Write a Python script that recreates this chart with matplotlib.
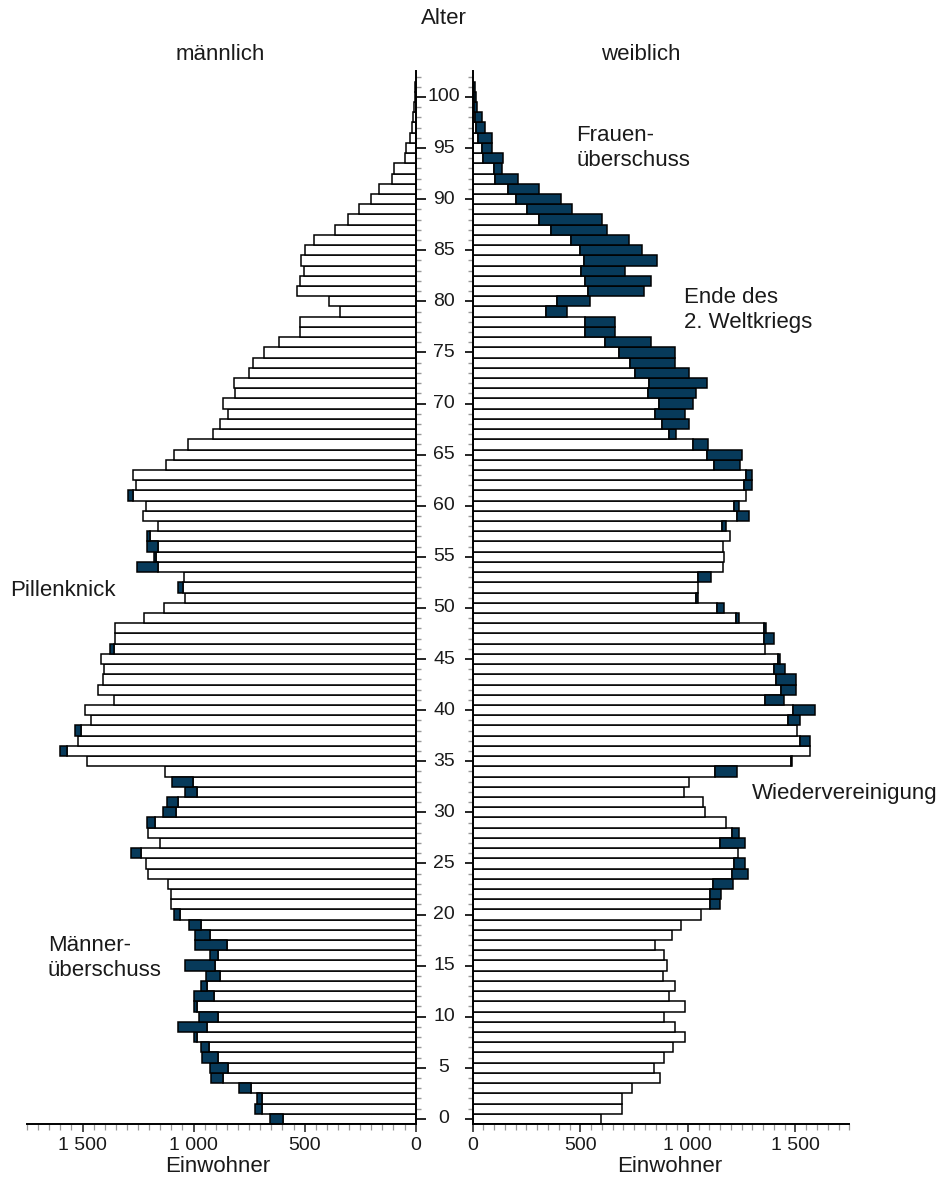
import numpy as np
import matplotlib
matplotlib.use("Agg")
import matplotlib.pyplot as plt
import matplotlib.transforms as mtransforms
from matplotlib.ticker import MultipleLocator, FuncFormatter

plt.rcParams["font.family"] = ["Liberation Sans", "DejaVu Sans"]

# Einwohner je Altersjahr (0 .. 101)
ages = np.arange(0, 102)
male = np.array([
    657, 722, 716, 796, 920, 926, 960, 967, 999, 1071,
    975, 997, 999, 967, 946, 1039, 926, 993, 993, 1020,
    1086, 1103, 1103, 1116, 1205, 1213, 1284, 1149, 1203, 1211,
    1137, 1119, 1039, 1098, 1128, 1478, 1600, 1522, 1533, 1463,
    1490, 1360, 1431, 1410, 1402, 1418, 1376, 1352, 1352, 1223,
    1135, 1037, 1071, 1045, 1257, 1180, 1211, 1211, 1160, 1228,
    1213, 1296, 1260, 1271, 1122, 1090, 1025, 912, 879, 846,
    867, 815, 818, 752, 731, 681, 615, 522, 522, 341,
    391, 534, 523, 505, 518, 497, 458, 363, 306, 254,
    201, 166, 105, 98, 49, 42, 24, 16, 12, 7,
    4, 2,
])
female = np.array([
    596, 692, 692, 741, 869, 843, 891, 930, 986, 938,
    891, 986, 910, 938, 883, 904, 891, 849, 924, 966,
    1062, 1149, 1155, 1209, 1279, 1264, 1235, 1264, 1237, 1175,
    1079, 1068, 984, 1004, 1230, 1484, 1568, 1568, 1507, 1521,
    1590, 1447, 1503, 1503, 1453, 1427, 1358, 1400, 1363, 1237,
    1169, 1046, 1046, 1108, 1161, 1169, 1161, 1195, 1175, 1285,
    1237, 1271, 1298, 1298, 1242, 1250, 1093, 945, 1006, 986,
    1025, 1039, 1087, 1006, 938, 938, 829, 660, 660, 436,
    545, 796, 829, 706, 856, 788, 728, 625, 599, 462,
    408, 307, 211, 137, 143, 88, 88, 56, 42, 20,
    14, 10,
])
age_ticks = np.arange(0, 101, 5)

DARK = "#073a5a"
GRAY = "#9a9a9a"
TEXT = "#1a1a1a"
W, H = 937, 1182


def px_box(x0, x1, y_top, y_bottom):
    return [x0 / W, 1 - y_bottom / H, (x1 - x0) / W, (y_bottom - y_top) / H]


def fmt_thousands(v, pos):
    return f"{int(round(v)):,}".replace(",", " ")


fig = plt.figure(figsize=(W / 100, H / 100), dpi=100)
ax_m = fig.add_axes(px_box(27, 415.7, 71.4, 1124))
ax_f = fig.add_axes(px_box(472.7, 849.3, 71.4, 1124))

lower = np.minimum(male, female)
m_extra = male > female
f_extra = female > male
bar_kw = dict(height=1.0, edgecolor="black", linewidth=1.1)

ax_m.barh(ages, lower, color="white", **bar_kw)
ax_m.barh(ages[m_extra], (male - lower)[m_extra], left=lower[m_extra], color=DARK, **bar_kw)
ax_f.barh(ages, lower, color="white", **bar_kw)
ax_f.barh(ages[f_extra], (female - lower)[f_extra], left=lower[f_extra], color=DARK, **bar_kw)

ax_m.set_xlim(1750, 0)
ax_f.set_xlim(0, 1750)
for ax in (ax_m, ax_f):
    ax.set_ylim(-0.5, 102.5)
    ax.spines["top"].set_visible(False)
    for s in ax.spines.values():
        s.set_linewidth(1.4)
    ax.xaxis.set_major_locator(MultipleLocator(500))
    ax.xaxis.set_minor_locator(MultipleLocator(50))
    ax.xaxis.set_major_formatter(FuncFormatter(fmt_thousands))
    ax.yaxis.set_major_locator(MultipleLocator(5))
    ax.yaxis.set_minor_locator(MultipleLocator(1))
    ax.tick_params(axis="x", which="major", direction="out", length=6, width=1.1,
                   labelsize=14, pad=3, colors=TEXT)
    ax.tick_params(axis="x", which="minor", direction="out", length=4, width=0.9, color=GRAY)
    ax.set_facecolor("none")

ax_m.spines["left"].set_visible(False)
ax_f.spines["right"].set_visible(False)

ax_m.yaxis.tick_right()
ax_m.tick_params(axis="y", which="major", direction="out", length=7.5, width=1.2, labelright=False)
ax_m.tick_params(axis="y", which="minor", direction="out", length=3.8, width=1.0, color=GRAY)
ax_f.tick_params(axis="y", which="major", direction="out", length=6, width=1.2, labelleft=False)
ax_f.tick_params(axis="y", which="minor", direction="out", length=3.8, width=1.0, color=GRAY)

# Altersangaben mittig zwischen den beiden Achsen
trans = mtransforms.blended_transform_factory(fig.transFigure, ax_f.transData)
for a in age_ticks:
    ax_f.text(444 / W, a, str(a), transform=trans, ha="center", va="center",
              fontsize=14, color=TEXT)


def ftext(x, y, s, **kw):
    kw.setdefault("fontsize", 16)
    kw.setdefault("color", TEXT)
    fig.text(x / W, 1 - y / H, s, **kw)


ftext(444, 18, "Alter", ha="center", va="center")
ftext(220, 55, "männlich", ha="center", va="center")
ftext(641, 55, "weiblich", ha="center", va="center")
ftext(218, 1167, "Einwohner", ha="center", va="center")
ftext(670, 1167, "Einwohner", ha="center", va="center")
ftext(10, 590, "Pillenknick", ha="left", va="center")
ftext(48, 958, "Männer-\nüberschuss", ha="left", va="center", linespacing=1.3)
ftext(576, 148, "Frauen-\nüberschuss", ha="left", va="center", linespacing=1.3)
ftext(684, 310, "Ende des\n2. Weltkriegs", ha="left", va="center", linespacing=1.3)
ftext(752, 793, "Wiedervereinigung", ha="left", va="center")

fig.savefig("out.png", dpi=100)
